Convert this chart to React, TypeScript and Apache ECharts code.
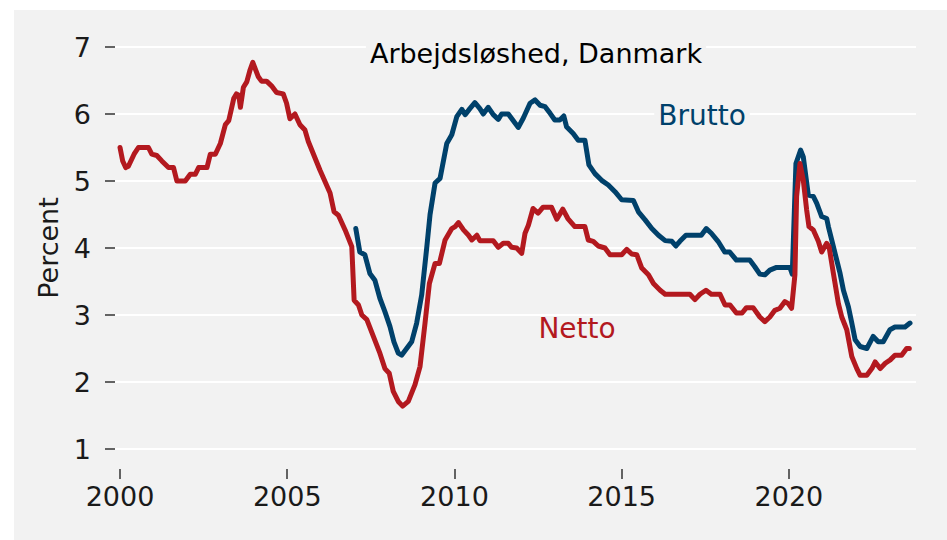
import React, { useEffect, useRef } from "react";
import * as echarts from "echarts";

// Netto unemployment (percent), [year, value]
const netto: [number, number][] = [
  [2000.0, 5.5], [2000.08, 5.3], [2000.17, 5.2], [2000.25, 5.22], [2000.42, 5.4], [2000.55, 5.5],
  [2000.85, 5.5], [2000.95, 5.4], [2001.1, 5.38], [2001.25, 5.3], [2001.45, 5.2], [2001.6, 5.2],
  [2001.7, 5.0], [2001.95, 5.0], [2002.1, 5.1], [2002.25, 5.1], [2002.35, 5.2], [2002.6, 5.2],
  [2002.7, 5.4], [2002.85, 5.4], [2003.0, 5.56], [2003.15, 5.84], [2003.25, 5.9], [2003.4, 6.23],
  [2003.48, 6.3], [2003.55, 6.28], [2003.6, 6.1], [2003.69, 6.4], [2003.79, 6.48], [2003.89, 6.66],
  [2003.97, 6.77], [2004.13, 6.56], [2004.23, 6.49], [2004.38, 6.49], [2004.53, 6.42], [2004.68, 6.32],
  [2004.88, 6.3], [2004.98, 6.16], [2005.08, 5.93], [2005.23, 6.0], [2005.38, 5.84], [2005.53, 5.76],
  [2005.63, 5.59], [2005.98, 5.16], [2006.28, 4.82], [2006.4, 4.54], [2006.53, 4.49], [2006.73, 4.27],
  [2006.93, 4.02], [2007.0, 3.22], [2007.13, 3.15], [2007.23, 3.0], [2007.38, 2.93], [2007.77, 2.43],
  [2007.92, 2.2], [2008.05, 2.13], [2008.17, 1.86], [2008.32, 1.71], [2008.45, 1.64], [2008.62, 1.71],
  [2008.82, 1.96], [2008.97, 2.23], [2009.12, 2.88], [2009.25, 3.47], [2009.42, 3.77], [2009.55, 3.77],
  [2009.72, 4.12], [2009.92, 4.29], [2010.02, 4.32], [2010.12, 4.38], [2010.27, 4.27], [2010.42, 4.19],
  [2010.52, 4.12], [2010.67, 4.19], [2010.76, 4.11], [2011.16, 4.11], [2011.31, 4.01], [2011.46, 4.07],
  [2011.61, 4.07], [2011.71, 4.01], [2011.86, 4.0], [2012.01, 3.92], [2012.11, 4.22], [2012.21, 4.34],
  [2012.35, 4.59], [2012.5, 4.52], [2012.65, 4.61], [2012.9, 4.61], [2013.06, 4.43], [2013.24, 4.58],
  [2013.39, 4.44], [2013.6, 4.32], [2013.9, 4.32], [2014.0, 4.12], [2014.15, 4.1], [2014.3, 4.03],
  [2014.5, 4.0], [2014.65, 3.9], [2015.0, 3.9], [2015.15, 3.98], [2015.3, 3.91], [2015.45, 3.9],
  [2015.6, 3.7], [2015.8, 3.6], [2015.95, 3.47], [2016.15, 3.37], [2016.3, 3.31], [2017.04, 3.31],
  [2017.19, 3.23], [2017.34, 3.31], [2017.52, 3.37], [2017.68, 3.31], [2017.94, 3.31], [2018.09, 3.15],
  [2018.24, 3.15], [2018.43, 3.03], [2018.6, 3.03], [2018.73, 3.11], [2018.93, 3.11], [2019.13, 2.97],
  [2019.28, 2.9], [2019.43, 2.97], [2019.58, 3.07], [2019.73, 3.1], [2019.88, 3.2], [2019.98, 3.17],
  [2020.08, 3.1], [2020.18, 3.6], [2020.23, 4.77], [2020.33, 5.26], [2020.43, 5.01], [2020.53, 4.57],
  [2020.6, 4.32], [2020.73, 4.27], [2020.88, 4.1], [2020.98, 3.94], [2021.13, 4.07], [2021.2, 4.02],
  [2021.33, 3.62], [2021.48, 3.17], [2021.58, 2.97], [2021.73, 2.78], [2021.88, 2.38], [2022.03, 2.2],
  [2022.13, 2.1], [2022.33, 2.1], [2022.48, 2.2], [2022.58, 2.3], [2022.73, 2.2], [2022.88, 2.28],
  [2023.03, 2.33], [2023.17, 2.4], [2023.37, 2.4], [2023.52, 2.5], [2023.6, 2.5],
];

// Brutto unemployment (percent), [year, value]
const brutto: [number, number][] = [
  [2007.05, 4.29], [2007.17, 3.94], [2007.32, 3.9], [2007.47, 3.62], [2007.62, 3.52], [2007.77, 3.25],
  [2007.92, 3.05], [2008.07, 2.83], [2008.19, 2.6], [2008.32, 2.43], [2008.42, 2.4], [2008.57, 2.5],
  [2008.72, 2.6], [2008.87, 2.88], [2009.02, 3.3], [2009.17, 4.0], [2009.27, 4.5], [2009.42, 4.97],
  [2009.57, 5.04], [2009.77, 5.56], [2009.92, 5.69], [2010.07, 5.96], [2010.22, 6.07], [2010.32, 5.99],
  [2010.46, 6.08], [2010.61, 6.17], [2010.76, 6.08], [2010.86, 6.0], [2011.01, 6.1], [2011.16, 5.99],
  [2011.31, 5.92], [2011.41, 6.0], [2011.61, 6.0], [2011.76, 5.9], [2011.91, 5.8], [2012.06, 5.94],
  [2012.26, 6.16], [2012.41, 6.21], [2012.56, 6.13], [2012.71, 6.11], [2012.86, 6.01], [2013.0, 5.91],
  [2013.15, 5.91], [2013.27, 5.97], [2013.35, 5.81], [2013.55, 5.71], [2013.7, 5.61], [2013.9, 5.61],
  [2014.02, 5.24], [2014.2, 5.11], [2014.4, 5.01], [2014.6, 4.94], [2014.8, 4.84], [2015.0, 4.72],
  [2015.35, 4.71], [2015.5, 4.54], [2015.7, 4.42], [2015.9, 4.29], [2016.1, 4.19], [2016.3, 4.11],
  [2016.5, 4.1], [2016.62, 4.03], [2016.74, 4.1], [2016.92, 4.19], [2017.38, 4.19], [2017.53, 4.29],
  [2017.68, 4.22], [2017.88, 4.1], [2018.08, 3.94], [2018.23, 3.94], [2018.43, 3.82], [2018.83, 3.82],
  [2018.98, 3.72], [2019.13, 3.61], [2019.28, 3.6], [2019.43, 3.67], [2019.63, 3.71], [2020.03, 3.71],
  [2020.1, 3.61], [2020.21, 5.26], [2020.35, 5.46], [2020.43, 5.36], [2020.58, 4.79], [2020.73, 4.77],
  [2020.83, 4.67], [2020.98, 4.47], [2021.13, 4.44], [2021.18, 4.32], [2021.33, 4.02], [2021.53, 3.62],
  [2021.63, 3.37], [2021.78, 3.12], [2021.88, 2.88], [2021.98, 2.63], [2022.13, 2.53], [2022.33, 2.5],
  [2022.52, 2.68], [2022.67, 2.6], [2022.82, 2.6], [2023.02, 2.78], [2023.17, 2.82], [2023.47, 2.82],
  [2023.62, 2.88],
];

const xTicks = [2000, 2005, 2010, 2015, 2020];
const title = "Arbejdsløshed, Danmark";
const yName = "Percent";
const seriesNames = ["Netto", "Brutto"];

const RED = "#B3191F";
const BLUE = "#00416B";
const BG = "#f2f2f2";
const FONT = "DejaVu Sans";

export default function App() {
  const ref = useRef<HTMLDivElement>(null);
  useEffect(() => {
    if (!ref.current) return;
    const chart = echarts.init(ref.current, null, { renderer: "svg" });
    chart.setOption({
      animation: false,
      backgroundColor: BG,
      grid: { left: 101, right: 31, top: 37, bottom: 91, containLabel: false },
      xAxis: {
        type: "value",
        min: 1999.85,
        max: 2023.8,
        offset: 20,
        axisLine: { show: false },
        splitLine: { show: false },
        axisTick: {
          show: true,
          length: 10,
          customValues: xTicks,
          lineStyle: { color: "#333", width: 1.5 },
        },
        axisLabel: {
          customValues: xTicks,
          margin: 14,
          fontFamily: FONT,
          fontSize: 27,
          color: "#1a1a1a",
          formatter: (v: number) => String(v),
        },
      },
      yAxis: {
        type: "value",
        min: 1,
        max: 7,
        interval: 1,
        axisLine: { show: false },
        axisTick: { show: true, length: 10, lineStyle: { color: "#333", width: 1.5 } },
        splitLine: { show: true, lineStyle: { color: "#ffffff", width: 2 } },
        axisLabel: { margin: 24, fontFamily: FONT, fontSize: 27, color: "#1a1a1a" },
      },
      graphic: [
        {
          type: "text",
          x: 522,
          y: 43,
          z: 100,
          style: {
            text: title,
            fontFamily: FONT,
            fontSize: 27,
            fill: "#000",
            backgroundColor: BG,
            padding: [2, 4],
            textAlign: "center",
            textVerticalAlign: "middle",
          },
        },
        {
          type: "text",
          x: 688,
          y: 105,
          z: 100,
          style: {
            text: seriesNames[1],
            fontFamily: FONT,
            fontSize: 28,
            fill: BLUE,
            backgroundColor: BG,
            padding: [2, 4],
            textAlign: "center",
            textVerticalAlign: "middle",
          },
        },
        {
          type: "text",
          x: 563,
          y: 318,
          z: 100,
          style: {
            text: seriesNames[0],
            fontFamily: FONT,
            fontSize: 28,
            fill: RED,
            textAlign: "center",
            textVerticalAlign: "middle",
          },
        },
        {
          type: "text",
          x: 34,
          y: 238,
          rotation: Math.PI / 2,
          style: {
            text: yName,
            fontFamily: FONT,
            fontSize: 27,
            fill: "#1a1a1a",
            textAlign: "center",
            textVerticalAlign: "middle",
          },
        },
      ],
      series: [
        {
          name: seriesNames[0],
          type: "line",
          data: netto,
          showSymbol: false,
          symbol: "none",
          lineStyle: { color: RED, width: 5, join: "round", cap: "round" },
          z: 3,
        },
        {
          name: seriesNames[1],
          type: "line",
          data: brutto,
          showSymbol: false,
          symbol: "none",
          lineStyle: { color: BLUE, width: 5, join: "round", cap: "round" },
          z: 2,
        },
      ],
    });
    return () => chart.dispose();
  }, []);
  return (
    <div style={{ position: "fixed", left: 0, top: 0, width: 947, height: 540, background: "#ffffff" }}>
      <div
        ref={ref}
        style={{ position: "absolute", left: 14, top: 10, width: 933, height: 530 }}
      />
    </div>
  );
}
